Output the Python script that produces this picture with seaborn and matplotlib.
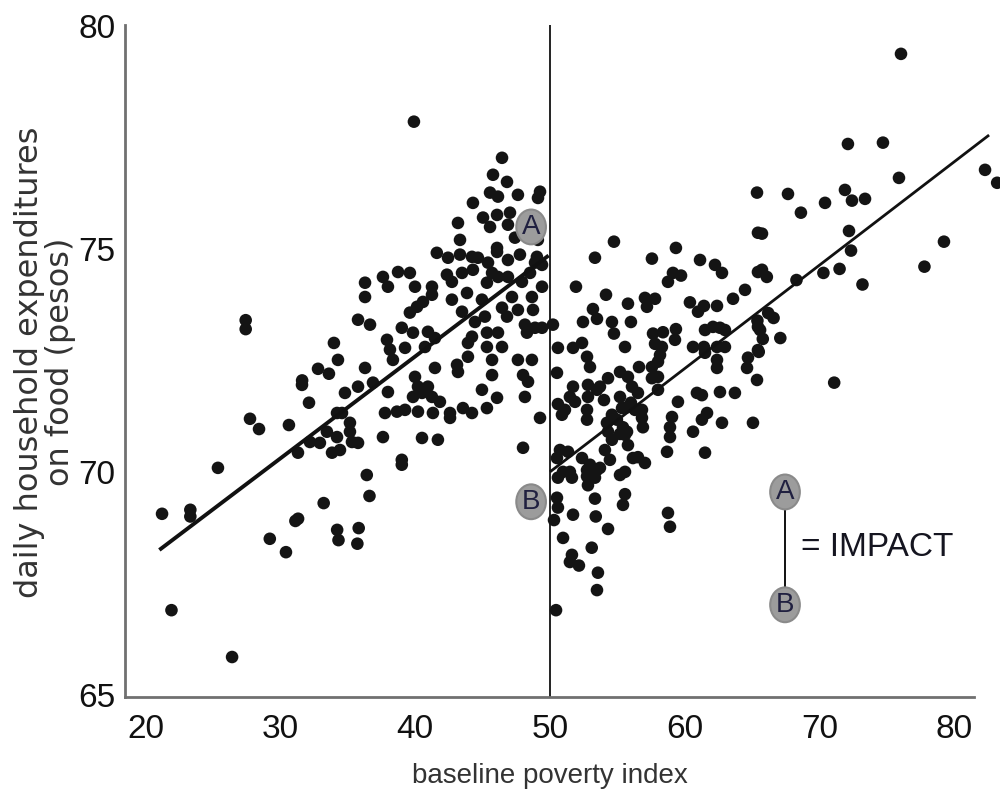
import numpy as np
import matplotlib
matplotlib.use("Agg")
import matplotlib.pyplot as plt
from matplotlib.patches import Ellipse
import seaborn as sns

# points left of the cutoff (poverty index < 50)
left_x = [21.2, 21.9, 23.3, 23.3, 25.35, 26.4, 27.41, 27.41, 27.73, 28.4, 29.2, 30.4, 30.62, 31.1, 31.3,
          31.29, 31.59, 31.6, 32.11, 32.18, 32.78, 32.92, 33.2, 33.44, 33.59, 33.82, 33.96, 34.19, 34.19,
          34.2, 34.26, 34.3, 35.8, 35.7, 36.4, 36.6,
          41.6, 42.43, 43.32, 44.21, 44.65, 45.4, 46.07, 46.88, 47.77, 49.03, 49.41,
          36.27, 36.27, 37.6, 37.97, 38.72, 39.6, 39.98, 41.24, 41.24, 42.35, 42.72, 43.47, 44.28, 45.32,
          45.7, 46.14, 46.88, 47.92, 48.52, 49.41, 48.89,
          40.57, 40.13, 39.6, 42.72, 43.84, 44.95, 47.18, 48.66, 46.44, 46.81, 47.62, 48.74, 43.47,
          35.75, 36.64, 39.0, 39.83, 40.94, 41.46, 44.43, 45.17, 45.32, 44.21, 46.14, 48.14, 48.29, 48.89, 49.41,
          37.9, 38.12, 39.24, 38.34, 40.72, 43.91, 43.91, 45.32, 46.44, 45.7, 47.62, 48.66,
          36.27, 41.46, 43.1, 43.17, 45.7, 48.0, 48.37, 39.98,
          34.78, 35.75, 36.86, 37.97, 40.2, 40.94, 39.83, 40.5, 41.24, 41.83, 44.95, 46.07, 48.14,
          34.56, 37.75, 38.64, 39.24, 40.2, 41.31, 42.58, 42.58, 43.54, 44.21, 45.32,
          35.15, 35.15, 49.26,
          34.41, 35.3, 35.75, 37.6, 40.5, 41.68, 48.0,
          39.0, 39.0,
          39.9, 46.44, 45.77, 46.81, 45.55, 46.14, 47.62, 49.26, 49.11, 44.28, 45.03, 46.07, 47.03, 46.88,
          45.55, 43.17, 43.32, 46.07, 47.4, 49.1]
left_y = [69.06, 66.9, 69.15, 69.0, 70.09, 65.85, 73.4, 73.2, 71.19, 70.96, 68.5, 68.2, 71.05, 68.9, 68.95,
          70.43, 71.95, 72.05, 71.55, 70.67, 72.31, 70.65, 69.3, 70.9, 72.2, 70.43, 72.89, 71.32, 70.78,
          68.7, 72.51, 68.47, 68.74, 68.39, 69.93, 69.46,
          74.91, 74.8, 74.87, 74.82, 74.8, 74.69, 74.93, 74.75, 74.87, 74.82, 74.64,
          74.24, 73.92, 74.37, 74.15, 74.48, 74.46, 74.15, 74.15, 73.97, 74.42, 74.26, 74.46, 74.53, 74.24,
          74.46, 74.37, 74.37, 74.26, 74.46, 74.15, 74.69,
          73.81, 73.7, 73.57, 73.86, 74.01, 73.86, 73.92, 73.92, 73.68, 73.48, 73.63, 73.63, 73.59,
          73.41, 73.3, 73.23, 73.12, 73.14, 73.0, 73.36, 73.48, 73.12, 73.03, 73.12, 73.3, 73.12, 73.23, 73.23,
          72.96, 72.74, 72.78, 72.51, 72.8, 72.58, 72.89, 72.8, 72.8, 72.51, 72.51, 72.51,
          72.33, 72.33, 72.4, 72.24, 72.17, 72.17, 72.02, 72.13,
          71.77, 71.91, 72.0, 71.79, 71.91, 71.91, 71.68, 71.77, 71.68, 71.57, 71.84, 71.66, 71.68,
          71.32, 71.32, 71.35, 71.39, 71.35, 71.32, 71.32, 71.21, 71.43, 71.32, 71.43,
          71.1, 70.9, 71.21,
          70.49, 70.67, 70.65, 70.78, 70.76, 70.72, 70.54,
          70.27, 70.16,
          77.85, 77.04, 76.66, 76.5, 76.26, 76.17, 76.21, 76.28, 76.14, 76.03, 75.7, 75.76, 75.81, 75.54,
          75.49, 75.58, 75.2, 75.02, 75.25, 75.2]

# points right of the cutoff (poverty index >= 50)
right_x = [65.37, 65.44, 54.75, 59.35, 76.06, 72.12, 74.72, 75.91, 67.67, 68.63, 70.42, 71.9, 72.42, 73.39,
           65.74, 72.2, 72.35, 79.25, 82.3, 83.2,
           53.34, 57.57, 61.14, 62.25, 62.77, 59.13, 59.73, 58.76, 65.44, 51.93, 54.16, 64.48, 57.05,
           57.8, 57.2, 60.39, 60.99, 61.43, 62.4, 63.59, 55.79, 53.19, 53.49, 54.6, 54.75, 56.01, 52.45,
           50.22, 57.65, 58.39, 59.35, 59.28, 57.8, 58.31, 58.17, 58.02, 61.51, 62.1, 62.62, 62.99, 60.62,
           61.43, 61.51, 62.4, 62.99, 62.4, 62.4, 65.44, 65.44, 64.7, 64.63, 65.37, 55.57, 50.59, 51.71,
           52.38, 52.75, 52.97, 50.52, 56.61, 57.57, 57.57, 58.02, 54.31, 55.2, 55.79, 56.09, 51.71, 52.82,
           53.49, 53.71, 52.82, 51.48, 51.86, 50.59, 51.11, 50.89, 52.75, 52.75, 54.01, 55.2, 56.53, 58.02,
           55.35, 55.72, 56.01, 56.31, 56.83, 56.83, 56.9, 54.6, 54.97, 54.23, 54.31, 54.6, 55.42, 55.72,
           55.57, 55.2, 55.79, 54.08, 59.5, 59.06, 58.91, 58.91, 61.66, 61.28, 60.62, 60.91, 61.28, 62.62,
           63.73, 62.77, 65.07, 58.69, 61.51, 50.74, 51.34, 50.52, 52.38, 52.97, 54.45, 56.16, 56.53, 57.05,
           50.97, 51.48, 52.75, 53.49, 53.71, 55.57,
           77.8, 65.74, 66.1, 68.3, 70.3, 71.5, 73.2, 66.2, 66.6, 65.4, 65.6, 65.8, 67.1, 65.5, 71.1,
           50.59, 51.63, 52.75, 52.82, 53.34, 55.2, 50.52, 50.59, 50.3, 51.71, 53.34, 53.4, 55.57, 55.42,
           54.31, 58.76, 58.91, 50.97, 53.1, 51.63, 51.48, 52.15, 53.56, 53.49, 50.45]
right_y = [76.26, 75.36, 75.16, 75.02, 79.37, 77.35, 77.38, 76.59, 76.23, 75.81, 76.03, 76.32, 76.08, 76.12,
           75.34, 75.4, 74.96, 75.16, 76.77, 76.48,
           74.8, 74.78, 74.75, 74.64, 74.46, 74.46, 74.4, 74.26, 74.48, 74.15, 73.97, 74.08, 73.9,
           73.88, 73.7, 73.8, 73.59, 73.72, 73.72, 73.88, 73.77, 73.65, 73.43, 73.36, 73.1, 73.36, 73.36,
           73.3, 73.1, 73.13, 73.2, 72.96, 72.87, 72.8, 72.62, 72.47, 73.18, 73.25, 73.23, 73.18, 72.8,
           72.8, 72.67, 72.8, 72.8, 72.51, 72.33, 73.25, 72.73, 72.56, 72.33, 72.06, 72.8, 72.78, 72.78,
           72.89, 72.58, 72.35, 72.22, 72.35, 72.35, 72.1, 72.13, 72.1, 72.24, 72.13, 71.91, 71.91, 71.95,
           71.84, 71.91, 71.68, 71.68, 71.57, 71.52, 71.39, 71.28, 71.39, 71.17, 71.61, 71.68, 71.77, 71.84,
           71.43, 71.45, 71.55, 71.39, 71.39, 71.21, 71.0, 71.28, 71.17, 71.1, 70.9, 70.72, 71.0, 70.9,
           70.83, 70.85, 70.6, 70.49, 71.57, 71.23, 71.0, 70.78, 71.32, 71.17, 70.9, 71.77, 71.72, 71.79,
           71.77, 71.1, 71.1, 70.45, 70.43, 70.49, 70.45, 70.31, 70.31, 70.16, 70.27, 70.31, 70.33, 70.2,
           70.0, 70.0, 70.04, 70.04, 70.09, 70.0,
           74.6, 74.53, 74.37, 74.3, 74.46, 74.55, 74.2, 73.56, 73.45, 73.39, 73.18, 72.98, 73.0, 72.69, 72.0,
           69.87, 69.87, 69.9, 69.7, 69.87, 69.93, 69.42, 69.2, 68.92, 69.04, 69.4, 69.0, 69.5, 69.26,
           68.72, 69.08, 68.77, 68.52, 68.3, 68.14, 67.98, 67.9, 67.74, 67.35, 66.9]

# fitted lines on each side of the cutoff
fit_left_x = [21.0, 49.9]
fit_left_y = [68.25, 74.85]
fit_right_x = [50.0, 82.6]
fit_right_y = [70.0, 77.55]

cutoff = 50
point_a = (48.6, 75.49)
point_b = (48.6, 69.33)
key_a = (67.45, 69.55)
key_b = (67.45, 67.02)

sns.set_style("white")
plt.rcParams["font.family"] = ["Liberation Sans", "DejaVu Sans"]

fig = plt.figure(figsize=(10, 8.02), dpi=100)
ax = fig.add_axes([0.125, 0.131, 0.849, 0.838])

dot = "#141414"
sns.scatterplot(x=left_x, y=left_y, ax=ax, color=dot, s=82, edgecolor="none", clip_on=False, zorder=3)
sns.scatterplot(x=right_x, y=right_y, ax=ax, color=dot, s=82, edgecolor="none", clip_on=False, zorder=3)

ax.plot(fit_left_x, fit_left_y, color="#111111", lw=2.8, solid_capstyle="butt", zorder=4)
ax.plot(fit_right_x, fit_right_y, color="#111111", lw=2.0, solid_capstyle="butt", zorder=4, clip_on=False)
ax.axvline(cutoff, color="#111111", lw=1.3, zorder=2)

ax.set_xlim(18.45, 81.48)
ax.set_ylim(64.955, 80.02)
ax.set_xticks([20, 30, 40, 50, 60, 70, 80])
ax.set_yticks([65, 70, 75, 80])

for side in ["top", "right"]:
    ax.spines[side].set_visible(False)
for side in ["left", "bottom"]:
    ax.spines[side].set_color("#707070")
    ax.spines[side].set_linewidth(2)
ax.tick_params(axis="x", length=0, pad=12, labelsize=24, labelcolor="#111111")
ax.tick_params(axis="y", length=0, pad=7, labelsize=24, labelcolor="#111111")

ax.set_xlabel("baseline poverty index", fontsize=20, color="#333333")
ax.xaxis.set_label_coords(0.5, -0.117)
ax.xaxis.label.set_va("center")

ax.set_ylabel("daily household expenditures\non food (pesos)", fontsize=23, color="#333333",
              family=["DejaVu Sans"], linespacing=1.0)
ax.yaxis.set_label_coords(-0.094, 0.498)
ax.yaxis.label.set_va("center")


def marker(ax, xy, letter):
    ell = Ellipse(xy, width=2.2, height=0.78, facecolor="#9c9c9c", edgecolor="#8a8a8a", lw=1.5, zorder=6)
    ax.add_patch(ell)
    ax.text(xy[0], xy[1], letter, ha="center", va="center", fontsize=20, color="#202040", zorder=7)


marker(ax, point_a, "A")
marker(ax, point_b, "B")
ax.plot([key_a[0], key_b[0]], [key_a[1], key_b[1]], color="#111111", lw=1.4, zorder=5)
marker(ax, key_a, "A")
marker(ax, key_b, "B")
ax.text(68.6, 68.3, "= IMPACT", ha="left", va="center", fontsize=24, color="#151520")

fig.savefig("out.png", dpi=100)
